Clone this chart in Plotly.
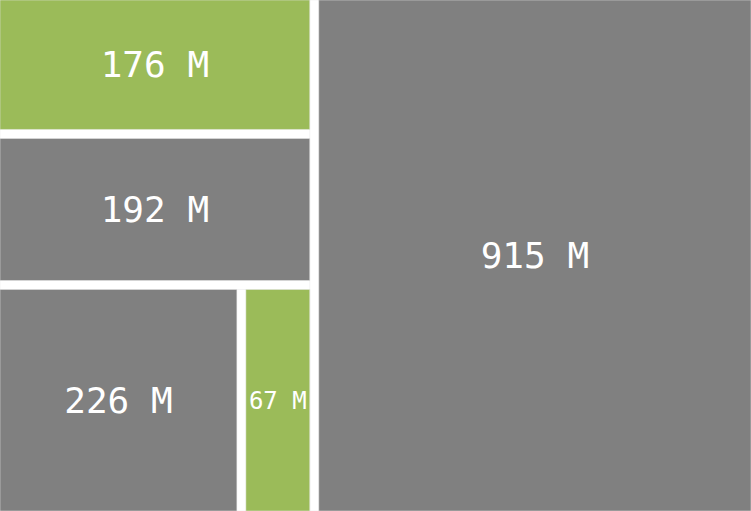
import plotly.graph_objects as go

# treemap nodes: one root, two grouping nodes for the left column and its bottom row
ids = ["all", "left", "a176", "a192", "bottom", "a226", "a67", "a915"]
parents = ["", "all", "left", "left", "left", "bottom", "bottom", "all"]
values = [1576, 661, 176, 192, 293, 226, 67, 915]
labels = ["", "", "176 M", "192 M", "", "226 M", "67 M", "915 M"]

GREEN = "#9BBB59"
GREY = "#808080"
colors = ["white", "white", GREEN, GREY, "white", GREY, GREEN, GREY]

fig = go.Figure(go.Treemap(
    ids=ids,
    labels=ids,
    parents=parents,
    values=values,
    text=labels,
    texttemplate="%{text}",
    textposition="middle center",
    textfont=dict(family="DejaVu Sans Mono", size=36, color="white"),
    branchvalues="total",
    sort=False,
    tiling=dict(packing="slice-dice", pad=9),
    marker=dict(colors=colors, pad=dict(t=0, l=0, r=0, b=0),
                line=dict(color="#e8e8e8", width=0.5)),
    pathbar=dict(visible=False),
    hoverinfo="none",
))

fig.update_layout(
    width=751,
    height=511,
    margin=dict(l=0, r=0, t=0, b=0),
    paper_bgcolor="white",
    hovermode=False,
)

# page body has a default 8px margin, drop it so the treemap sits flush
fig.write_html("out.html", config={"displayModeBar": False, "staticPlot": True},
               post_script="document.body.style.margin='0px';")
